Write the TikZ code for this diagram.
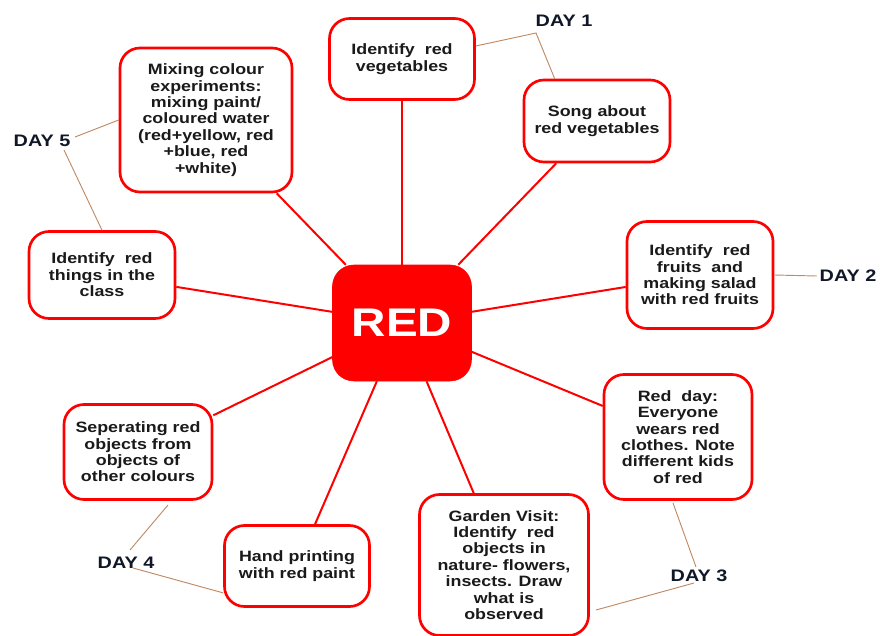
\documentclass[tikz,border=0pt]{standalone}
\usepackage{fontspec}
\setmainfont[FakeStretch=1.19]{Liberation Sans}
\definecolor{txtc}{HTML}{1A1A1A}
\definecolor{dayc}{HTML}{C08A62}
\definecolor{dayt}{HTML}{101828}
\begin{document}
\begin{tikzpicture}[x=0.75pt,y=-0.75pt,
  box/.style={draw=red, line width=2pt, rounded corners=15pt, fill=white, align=center,
    font=\fontsize{11.25}{12.3}\selectfont\bfseries, text=txtc, inner sep=0pt},
  centre/.style={draw=red, fill=red, rounded corners=16pt, text=white,
    font=\fontsize{30}{32}\selectfont\bfseries, inner sep=0pt,
    minimum width=104.25pt, minimum height=87pt},
  spoke/.style={draw=red, line width=1.5pt},
  dayline/.style={draw=dayc, line width=0.7pt},
  daylabel/.style={font=\fontsize{12.5}{15}\selectfont\bfseries, text=dayt, inner sep=0pt}]
\useasboundingbox (0,0) rectangle (887,635);

\node[centre] (red) at (402,323) {RED};

\node[box, minimum width=108.75pt, minimum height=60.75pt] (veg) at (402,59)
  {Identify\ \ red\\vegetables};
\node[box, minimum width=109.5pt, minimum height=61.5pt] (song) at (597,121)
  {Song about\\red vegetables};
\node[box, minimum width=129pt, minimum height=108pt] (mix) at (206,120)
  {Mixing colour\\experiments:\\mixing paint/\\coloured water\\(red+yellow, red\\+blue, red\\+white)};
\node[box, minimum width=109.5pt, minimum height=65.25pt] (things) at (102,275)
  {Identify\ \ red\\things in the\\class};
\node[box, minimum width=109.5pt, minimum height=80.25pt] (fruits) at (700,275)
  {Identify\ \ red\\fruits\ \ and\\making salad\\with red fruits};
\node[box, minimum width=111pt, minimum height=93.75pt] (redday) at (678,437)
  {Red\ \ day:\\Everyone\\wears red\\clothes. Note\\different kids\\of red};
\node[box, minimum width=111pt, minimum height=71.25pt] (sep) at (138,452)
  {Seperating red\\objects from\\objects of\\other colours};
\node[box, minimum width=108.75pt, minimum height=60.75pt] (hand) at (297,566)
  {Hand printing\\with red paint};
\node[box, minimum width=126.75pt, minimum height=105.75pt] (garden) at (504,565)
  {Garden Visit:\\Identify\ \ red\\objects in\\nature- flowers,\\insects. Draw\\what is\\observed};

\foreach \n in {veg,song,mix,things,fruits,redday,sep,hand,garden}
  \draw[spoke] (red) -- (\n);

% day labels
\node[daylabel] (day1) at (564,21) {DAY 1};
\node[daylabel] (day2) at (848,276) {DAY 2};
\node[daylabel] (day3) at (699,576) {DAY 3};
\node[daylabel] (day4) at (126,563) {DAY 4};
\node[daylabel] (day5) at (42,141) {DAY 5};

\coordinate (d1k) at (536,33);
\draw[dayline] (veg.10) -- (d1k) -- (song.135);

\draw[dayline] (fruits.east) -- ([xshift=-2pt]day2.west);

\coordinate (d3a) at (673,503);
\coordinate (d3b) at (696,567);
\coordinate (d3c) at (694,583);
\coordinate (d3d) at (596,610);
\draw[dayline] (d3a) -- (d3b);
\draw[dayline] (d3c) -- (d3d);

\coordinate (d4a) at (168,505);
\coordinate (d4b) at (130,550);
\coordinate (d4c) at (133,568);
\draw[dayline] (d4a) -- (d4b);
\draw[dayline] (d4c) -- (hand.200);

\coordinate (d5a) at (75,137);
\coordinate (d5b) at (64,150);
\draw[dayline] (d5a) -- (mix.west);
\draw[dayline] (d5b) -- (things.north);
\end{tikzpicture}
\end{document}
